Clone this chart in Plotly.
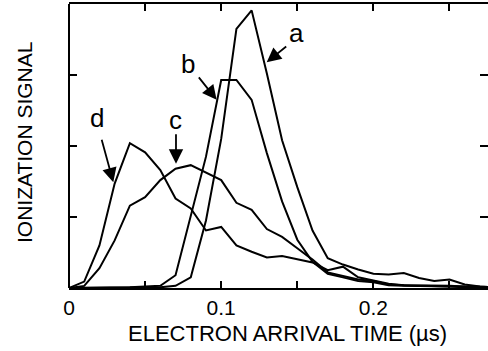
import plotly.graph_objects as go

# Electron arrival time (µs)
time_us = [0.00, 0.01, 0.02, 0.03, 0.04, 0.05, 0.06, 0.07, 0.08, 0.09,
           0.10, 0.11, 0.12, 0.13, 0.14, 0.15, 0.16, 0.17, 0.18, 0.19,
           0.20, 0.21, 0.22, 0.23, 0.24, 0.25, 0.26, 0.27, 0.28]

signal_a = [0.00, 0.00, 0.00, 0.00, 0.01, 0.01, 0.01, 0.03, 0.15, 0.95,
            2.10, 3.65, 3.91, 3.02, 2.08, 1.42, 0.81, 0.42, 0.33, 0.26,
            0.20, 0.19, 0.21, 0.14, 0.10, 0.12, 0.05, 0.02, 0.01]
signal_b = [0.00, 0.00, 0.00, 0.01, 0.01, 0.02, 0.03, 0.18, 1.00, 1.85,
            2.93, 2.93, 2.65, 1.90, 1.22, 0.68, 0.37, 0.20, 0.15, 0.10,
            0.08, 0.04, 0.03, 0.03, 0.02, 0.02, 0.01, 0.01, 0.01]
signal_c = [0.00, 0.03, 0.28, 0.67, 1.16, 1.28, 1.52, 1.68, 1.73, 1.63,
            1.52, 1.20, 1.10, 0.83, 0.72, 0.56, 0.40, 0.22, 0.17, 0.12,
            0.10, 0.05, 0.04, 0.03, 0.03, 0.02, 0.02, 0.01, 0.01]
signal_d = [0.00, 0.09, 0.60, 1.47, 2.04, 1.91, 1.66, 1.26, 1.12, 0.81,
            0.86, 0.60, 0.51, 0.43, 0.45, 0.40, 0.36, 0.25, 0.30, 0.15,
            0.11, 0.06, 0.04, 0.04, 0.03, 0.03, 0.02, 0.02, 0.01]

series_names = ["a", "b", "c", "d"]
x_tickvals = [0.0, 0.05, 0.1, 0.15, 0.2, 0.25]
x_ticktext = ["0", "", "0.1", "", "0.2", ""]
y_tickvals = [1, 2, 3]

# label positions (letter) and arrow tips, in data units
label_pos = {"a": (0.1496, 3.59), "b": (0.0782, 3.16), "c": (0.0703, 2.36), "d": (0.0182, 2.39)}
arrow_tip = {"a": (0.1299, 3.18), "b": (0.0970, 2.65), "c": (0.0703, 1.75), "d": (0.0291, 1.49)}
arrow_tail_px = {"a": (21, -17), "b": (-19, -24), "c": (0, -31), "d": (-12, -44)}

FONT = "Liberation Sans, Arial, Helvetica, sans-serif"

fig = go.Figure()
for name, ys in zip(series_names, [signal_a, signal_b, signal_c, signal_d]):
    fig.add_trace(go.Scatter(x=time_us, y=ys, mode="lines", name=name,
                             line=dict(color="black", width=2), showlegend=False))

fig.update_layout(
    width=488, height=351,
    margin=dict(l=69, r=0, t=4, b=63),
    paper_bgcolor="white", plot_bgcolor="white",
    font=dict(family=FONT, size=21, color="black"),
    xaxis=dict(range=[0, 0.2753], tickvals=x_tickvals, ticktext=x_ticktext,
               ticks="inside", ticklen=7, tickwidth=1.5, tickcolor="black",
               showline=True, linecolor="black", linewidth=2, mirror="ticks",
               showgrid=False, zeroline=False, tickfont=dict(size=21)),
    yaxis=dict(range=[0, 4], tickvals=y_tickvals, showticklabels=False,
               ticks="inside", ticklen=8, tickwidth=1.5, tickcolor="black",
               showline=False, mirror="ticks",
               showgrid=False, zeroline=False),
)

# left frame line (right side has ticks only, no line)
fig.add_shape(type="line", xref="paper", yref="paper", x0=0, x1=0, y0=0, y1=1,
              line=dict(color="black", width=2))

# axis titles
fig.add_annotation(text="ELECTRON ARRIVAL TIME (\u00b5s)", xref="paper", yref="paper",
                   x=(287 - 69) / 419, y=-(333 - 288) / 284, showarrow=False,
                   xanchor="center", yanchor="middle", font=dict(size=22))
fig.add_annotation(text="IONIZATION SIGNAL", xref="paper", yref="paper",
                   x=-(69 - 24) / 419, y=(288 - 143) / 284, textangle=-90, showarrow=False,
                   xanchor="center", yanchor="middle", font=dict(size=21))

for n in series_names:
    lx, ly = label_pos[n]
    fig.add_annotation(x=lx, y=ly, text=n, showarrow=False, font=dict(size=26),
                       xanchor="center", yanchor="middle")
    tx, ty = arrow_tip[n]
    ax, ay = arrow_tail_px[n]
    fig.add_annotation(x=tx, y=ty, text="", showarrow=True, ax=ax, ay=ay,
                       arrowhead=2, arrowsize=1.6, arrowwidth=1.8, arrowcolor="black",
                       standoff=0)

fig.write_html("out.html", config={"displayModeBar": False},
               post_script="document.body.style.margin='0';document.body.style.padding='0';")
